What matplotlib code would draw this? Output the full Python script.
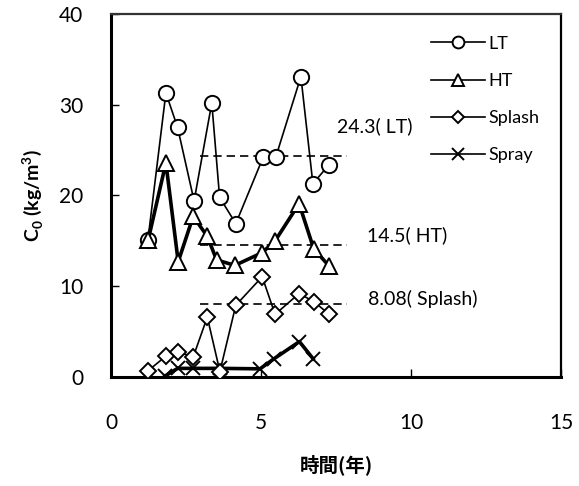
import matplotlib
matplotlib.use("Agg")
import matplotlib.pyplot as plt
from matplotlib.lines import Line2D

plt.rcParams["font.family"] = ["Lato", "DejaVu Sans"]
plt.rcParams["mathtext.fontset"] = "custom"
plt.rcParams["mathtext.rm"] = "Lato"
plt.rcParams["mathtext.bf"] = "Lato:bold"

# ---------------------------------------------------------------------
# Data
# ---------------------------------------------------------------------
lt_x = [1.23, 1.83, 2.22, 2.77, 3.36, 3.62, 4.16, 5.07, 5.49, 6.33, 6.73, 7.27]
lt_y = [15.1, 31.3, 27.5, 19.4, 30.2, 19.8, 16.9, 24.2, 24.2, 33.1, 21.3, 23.4]

ht_x = [1.24, 1.83, 2.24, 2.74, 3.21, 3.52, 4.13, 5.04, 5.47, 6.27, 6.76, 7.28]
ht_y = [15.1, 23.6, 12.7, 17.7, 15.5, 12.9, 12.3, 13.7, 15.0, 19.1, 14.1, 12.2]

splash_x = [1.24, 1.83, 2.22, 2.74, 3.21, 3.63, 4.16, 5.04, 5.47, 6.27, 6.76, 7.28]
splash_y = [0.7, 2.3, 2.8, 2.2, 6.6, 0.6, 7.9, 11.05, 6.9, 9.2, 8.3, 6.9]

spray_x = [1.80, 2.22, 2.74, 3.63, 4.97, 5.43, 6.28, 6.74]
spray_y = [0.1, 0.95, 0.95, 0.95, 0.9, 2.0, 3.9, 2.0]

# mean levels (dashed) and their labels
mean_vals = [24.3, 14.5, 8.08]
mean_labels = ["24.3( LT)", "14.5( HT)", "8.08( Splash)"]
mean_span = [2.97, 7.86]
label_pos = [(7.53, 27.6), (8.52, 15.6), (8.58, 8.6)]

# ---------------------------------------------------------------------
# Figure
# ---------------------------------------------------------------------
fig = plt.figure(figsize=(5.79, 4.86), dpi=100)
ax = fig.add_axes([0.1917, 0.2243, 0.7772, 0.7469])

mk = dict(markerfacecolor="white", markeredgecolor="black", markeredgewidth=1.4)
ax.plot(lt_x, lt_y, color="black", lw=1.2, marker="o", markersize=11, **mk, zorder=3)
ax.plot(ht_x, ht_y, color="black", lw=2.6, marker="^", markersize=11, **mk, zorder=4)
ax.plot(splash_x, splash_y, color="black", lw=1.2, marker="D", markersize=8, **mk, zorder=3)
ax.plot(spray_x, spray_y, color="black", lw=2.6, marker="x", markersize=10,
        markeredgewidth=1.4, zorder=2)

for v in mean_vals:
    ax.plot(mean_span, [v, v], color="black", lw=1.2, ls=(0, (5, 3)), zorder=1)
for txt, (tx, ty) in zip(mean_labels, label_pos):
    ax.text(tx, ty, txt, fontsize=14, ha="left", va="center")

handles = [
    Line2D([], [], color="black", lw=1.2, marker="o", markersize=8.5, **mk),
    Line2D([], [], color="black", lw=1.2, marker="^", markersize=8.5, **mk),
    Line2D([], [], color="black", lw=1.2, marker="D", markersize=6, **mk),
    Line2D([], [], color="black", lw=1.2, marker="x", markersize=8.5, markeredgewidth=1.4),
]
ax.legend(handles, ["LT", "HT", "Splash", "Spray"], loc="upper left",
          bbox_to_anchor=(0.711, 0.94), frameon=False, fontsize=13,
          borderpad=0, borderaxespad=0,
          handlelength=3.0, handletextpad=0.17, labelspacing=1.17)

ax.set_xlim(0, 15)
ax.set_ylim(0, 40)
ax.set_xticks([0, 5, 10, 15])
ax.set_yticks([0, 10, 20, 30, 40])
ax.tick_params(axis="x", direction="in", length=6, width=1, labelsize=15, pad=26)
ax.tick_params(axis="y", direction="in", length=6, width=1, labelsize=15, pad=20)

for side in ["left", "bottom"]:
    ax.spines[side].set_linewidth(2.2)
ax.spines["right"].set_linewidth(1.6)
ax.spines["top"].set_linewidth(1.6)
ax.spines["top"].set_color("#333333")

ax.set_xlabel("時間(年)", family=["Noto Sans CJK JP", "DejaVu Sans"],
              fontweight="bold", fontsize=14, labelpad=15)
ax.set_ylabel(r"C$_{\mathbf{0}}$ (kg/m$^{\mathbf{3}}$)", fontweight="bold",
              fontsize=14, labelpad=10)

fig.savefig("out.png", dpi=100)
